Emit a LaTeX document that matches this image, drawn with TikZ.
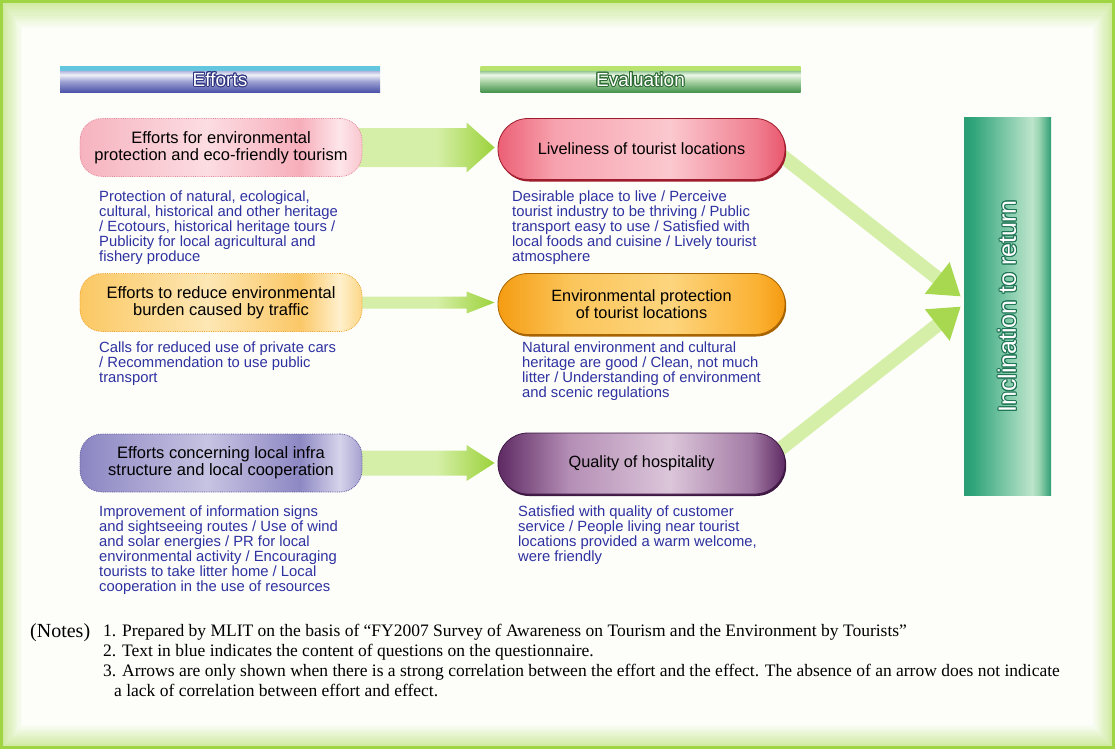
\documentclass[tikz,border=0pt]{standalone}
\usepackage{fontspec}
\setmainfont{Liberation Sans}
\newfontfamily\notesfont{Liberation Serif}
\usepackage{contour}
\usetikzlibrary{calc}
\usetikzlibrary{shadows}
\usetikzlibrary{arrows.meta}
\contourlength{1pt}

\definecolor{framegreen}{HTML}{9FD542}
\definecolor{descblue}{HTML}{2E31A0}
\definecolor{effdark}{HTML}{2F3580}
\definecolor{evadark}{HTML}{2C6B32}
\definecolor{retdark}{HTML}{1F7555}
\definecolor{arrowpale}{HTML}{D6EFA8}
\definecolor{arrowgreen}{HTML}{9BD23A}
\definecolor{e1line}{HTML}{E58A9B}
\definecolor{e2line}{HTML}{EEA32C}
\definecolor{e3line}{HTML}{5D5A9C}
\definecolor{v1line}{HTML}{9E1C2C}
\definecolor{v2line}{HTML}{A86400}
\definecolor{v3line}{HTML}{3F1844}

% stops between 25bp and 75bp span the shaded path
\pgfdeclarehorizontalshading{effpink}{100bp}{color(0bp)=(rgb,255:red,246;green,179;blue,191); color(25bp)=(rgb,255:red,246;green,179;blue,191); color(47.5bp)=(rgb,255:red,252;green,221;blue,226); color(64bp)=(rgb,255:red,247;green,174;blue,187); color(71bp)=(rgb,255:red,253;green,230;blue,234); color(75bp)=(rgb,255:red,249;green,198;blue,207); color(100bp)=(rgb,255:red,249;green,198;blue,207)}
\pgfdeclarehorizontalshading{effamber}{100bp}{color(0bp)=(rgb,255:red,251;green,200;blue,99); color(25bp)=(rgb,255:red,251;green,200;blue,99); color(47.5bp)=(rgb,255:red,253;green,231;blue,180); color(64bp)=(rgb,255:red,251;green,200;blue,103); color(71bp)=(rgb,255:red,255;green,240;blue,204); color(75bp)=(rgb,255:red,252;green,215;blue,136); color(100bp)=(rgb,255:red,252;green,215;blue,136)}
\pgfdeclarehorizontalshading{effviolet}{100bp}{color(0bp)=(rgb,255:red,139;green,134;blue,194); color(25bp)=(rgb,255:red,139;green,134;blue,194); color(47.5bp)=(rgb,255:red,199;green,195;blue,226); color(64bp)=(rgb,255:red,141;green,136;blue,195); color(71bp)=(rgb,255:red,214;green,211;blue,235); color(75bp)=(rgb,255:red,165;green,161;blue,208); color(100bp)=(rgb,255:red,165;green,161;blue,208)}
\pgfdeclarehorizontalshading{evalred}{100bp}{color(0bp)=(rgb,255:red,236;green,95;blue,117); color(25bp)=(rgb,255:red,236;green,95;blue,117); color(35bp)=(rgb,255:red,247;green,163;blue,175); color(55bp)=(rgb,255:red,251;green,200;blue,207); color(70bp)=(rgb,255:red,240;green,127;blue,144); color(75bp)=(rgb,255:red,233;green,86;blue,108); color(100bp)=(rgb,255:red,233;green,86;blue,108)}
\pgfdeclarehorizontalshading{evalamber}{100bp}{color(0bp)=(rgb,255:red,245;green,156;blue,18); color(25bp)=(rgb,255:red,245;green,156;blue,18); color(37.5bp)=(rgb,255:red,251;green,197;blue,90); color(55bp)=(rgb,255:red,253;green,213;blue,126); color(70bp)=(rgb,255:red,251;green,178;blue,52); color(75bp)=(rgb,255:red,244;green,154;blue,16); color(100bp)=(rgb,255:red,244;green,154;blue,16)}
\pgfdeclarehorizontalshading{evalplum}{100bp}{color(0bp)=(rgb,255:red,94;green,42;blue,99); color(25bp)=(rgb,255:red,94;green,42;blue,99); color(37.5bp)=(rgb,255:red,181;green,143;blue,182); color(55bp)=(rgb,255:red,220;green,198;blue,218); color(69bp)=(rgb,255:red,163;green,123;blue,165); color(75bp)=(rgb,255:red,94;green,42;blue,99); color(100bp)=(rgb,255:red,94;green,42;blue,99)}
\pgfdeclarehorizontalshading{retshade}{100bp}{color(0bp)=(rgb,255:red,42;green,157;blue,116); color(25bp)=(rgb,255:red,42;green,157;blue,116); color(30bp)=(rgb,255:red,47;green,164;blue,122); color(64bp)=(rgb,255:red,189;green,229;blue,204); color(68bp)=(rgb,255:red,154;green,214;blue,178); color(75bp)=(rgb,255:red,47;green,158;blue,116); color(100bp)=(rgb,255:red,47;green,158;blue,116)}
\pgfdeclarehorizontalshading{arrowshade}{100bp}{color(0bp)=(arrowpale); color(55bp)=(arrowpale); color(75bp)=(arrowgreen); color(100bp)=(arrowgreen)}
\pgfdeclareverticalshading{effhead}{100bp}{color(0bp)=(rgb,255:red,71;green,78;blue,165); color(25bp)=(rgb,255:red,71;green,78;blue,165); color(47.5bp)=(rgb,255:red,157;green,162;blue,210); color(60bp)=(rgb,255:red,240;green,241;blue,248); color(68bp)=(rgb,255:red,174;green,179;blue,220); color(69.5bp)=(rgb,255:red,98;green,198;blue,223); color(100bp)=(rgb,255:red,98;green,198;blue,223)}
\pgfdeclareverticalshading{evahead}{100bp}{color(0bp)=(rgb,255:red,63;green,143;blue,72); color(25bp)=(rgb,255:red,63;green,143;blue,72); color(47.5bp)=(rgb,255:red,169;green,211;blue,165); color(60bp)=(rgb,255:red,238;green,247;blue,234); color(68bp)=(rgb,255:red,143;green,196;blue,143); color(69.5bp)=(rgb,255:red,184;green,228;blue,110); color(100bp)=(rgb,255:red,184;green,228;blue,110)}

\pgfdeclarelayer{bg}
\pgfdeclarelayer{mid}
\pgfsetlayers{bg,mid,main}

\tikzset{
  headbar/.style={
    shade, minimum width=320pt, minimum height=26pt, inner sep=0pt,
    text=white, font=\fontsize{19}{19}\selectfont
  },
  effortbox/.style={
    shade, densely dotted, line width=0.8pt, rounded corners=22pt,
    minimum width=282pt, minimum height=58pt, align=center,
    font=\fontsize{16.5}{17}\selectfont
  },
  evalbox/.style={
    shade, draw=#1, line width=0.8pt, rounded corners=30pt,
    minimum width=287pt, minimum height=61pt, align=center,
    font=\fontsize{16.3}{17}\selectfont,
    drop shadow={shadow xshift=1.2pt, shadow yshift=-2pt, fill=#1, opacity=1}
  },
  desc/.style={
    anchor=base west, inner sep=0pt, align=left, text=descblue,
    font=\fontsize{14.8}{15}\selectfont
  },
  notes/.style={
    anchor=base west, inner sep=0pt, align=left,
    font=\notesfont\fontsize{17.5}{19.7}\selectfont
  },
  slantarrow/.style={
    draw=arrowpale, line width=14pt,
    -{Triangle[length=30pt, width=38pt, color=arrowgreen!80!arrowpale]}
  }
}

% shaded block arrow from one box to the next
\newcommand{\fatarrow}[4]{%
  \path (#1.east -| #2.west) coordinate (tip);
  \shade[shading=arrowshade]
    ($(#1.east)+(-14,#3)$) -- ($(tip)+(-31,#3)$) -- ($(tip)+(-31,#4)$)
    -- ($(tip)+(-3,0)$)
    -- ($(tip)+(-31,-#4)$) -- ($(tip)+(-31,-#3)$) -- ($(#1.east)+(-14,-#3)$) -- cycle;}

\begin{document}
\begin{tikzpicture}[x=1pt, y=-1pt]
  \useasboundingbox (0,0) rectangle (1115,749);

  % frame
  \begin{pgfonlayer}{bg}
    \foreach \i in {0,...,12} {
      \pgfmathsetmacro\amt{48-3.8*\i}
      \fill[framegreen!\amt!white] (3+1.6*\i, 3+2.1*\i) rectangle (1112-1.6*\i, 746-1.75*\i);
    }
    \draw[framegreen, line width=3pt] (1.5,1.5) rectangle (1113.5,747.5);
  \end{pgfonlayer}

  % headers
  \node[headbar, shading=effhead] (hEff) at (220,80) {\contour{effdark}{Efforts}};
  \node[headbar, shading=evahead] (hEva) at (640.5,80) {\contour{evadark}{Evaluation}};

  % efforts
  \node[effortbox, draw=e1line, shading=effpink] (e1) at (221,147.5)
    {Efforts for environmental\\protection and eco-friendly tourism};
  \node[effortbox, draw=e2line, shading=effamber] (e2) at (221,302.5)
    {Efforts to reduce environmental\\burden caused by traffic};
  \node[effortbox, draw=e3line, shading=effviolet] (e3) at (221,463)
    {Efforts concerning local infra\\structure and local cooperation};

  % evaluation
  \node[evalbox=v1line, shading=evalred] (v1) at (641.5,149)
    {Liveliness of tourist locations};
  \node[evalbox=v2line, shading=evalamber] (v2) at (641.5,304)
    {Environmental protection\\of tourist locations};
  \node[evalbox=v3line, shading=evalplum] (v3) at (641.5,463.5)
    {Quality of hospitality};

  \node[shade, shading=retshade, minimum width=87pt, minimum height=377pt,
        inner sep=0pt, text=white, font=\fontsize{25}{25}\selectfont] (ret) at (1007.5,306.5)
    {\rotatebox{90}{\contour{retdark}{Inclination to return}}};

  % arrows
  \begin{pgfonlayer}{mid}
    \fatarrow{e1}{v1}{19.5}{25}
    \fatarrow{e2}{v2}{6}{11}
    \fatarrow{e3}{v3}{12.5}{18}
    \draw[slantarrow] ($(v1.east)+(-12,0)$) -- ($(ret.west)+(-3,-10)$);
    \draw[slantarrow] ($(v3.east)+(-12,-9)$) -- ($(ret.west)+(-3,0)$);
  \end{pgfonlayer}

  % question texts (anchored on the last line)
  \node[desc] (d1) at (99,261) {Protection of natural, ecological,\\cultural, historical and other heritage\\/ Ecotours, historical heritage tours /\\Publicity for local agricultural and\\fishery produce};
  \node[desc] (d2) at (99,382) {Calls for reduced use of private cars\\/ Recommendation to use public\\transport};
  \node[desc] (d3) at (99,591) {Improvement of information signs\\and sightseeing routes / Use of wind\\and solar energies / PR for local\\environmental activity / Encouraging\\tourists to take litter home / Local\\cooperation in the use of resources};
  \node[desc] (q1) at (512,261) {Desirable place to live / Perceive\\tourist industry to be thriving / Public\\transport easy to use / Satisfied with\\local foods and cuisine / Lively tourist\\atmosphere};
  \node[desc] (q2) at (522,397) {Natural environment and cultural\\heritage are good / Clean, not much\\litter / Understanding of environment\\and scenic regulations};
  \node[desc] (q3) at (518,561) {Satisfied with quality of customer\\service / People living near tourist\\locations provided a warm welcome,\\were friendly};

  % notes
  \node[notes, font=\notesfont\fontsize{20}{20}\selectfont] (nt) at (30,637) {(Notes)};
  \node[notes] (nl) at (103,696) {1. Prepared by MLIT on the basis of “FY2007 Survey of Awareness on Tourism and the Environment by Tourists”\\2. Text in blue indicates the content of questions on the questionnaire.\\3. Arrows are only shown when there is a strong correlation between the effort and the effect. The absence of an arrow does not indicate\\\hspace*{11pt}a lack of correlation between effort and effect.};
\end{tikzpicture}
\end{document}
